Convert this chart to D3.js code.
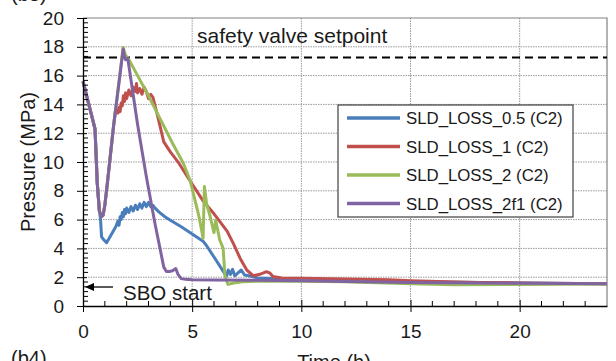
<!DOCTYPE html>
<html><head><meta charset="utf-8">
<script src="https://cdn.jsdelivr.net/npm/d3@7"></script>
<style>body{margin:0;background:#fff}svg{display:block;font-family:"Liberation Sans",Arial,sans-serif}</style>
</head><body><svg id="c" width="616" height="361"></svg>
<script>
// ---- data ----
const xTicks = [0, 5, 10, 15, 20];
const yTicks = [0, 2, 4, 6, 8, 10, 12, 14, 16, 18, 20];
const seriesNames = ["SLD_LOSS_0.5 (C2)", "SLD_LOSS_1 (C2)", "SLD_LOSS_2 (C2)", "SLD_LOSS_2f1 (C2)"];
const seriesColors = ["#4a7ebb", "#c0504d", "#9bbb59", "#8064a2"];
const setpoint = 17.25;

const tBlue = [0,0.2,0.55,0.6,0.65,0.75,0.8,0.85,0.95,1.08,1.2,1.35,1.5,1.6,1.65,1.7,1.75,1.8,1.85,1.9,1.95,2.0,2.1,2.2,2.3,2.4,2.5,2.6,2.7,2.8,2.9,3.0,3.1,3.2,3.3,3.5,3.75,4.0,4.5,5.0,5.5,5.7,6.0,6.3,6.57,6.65,6.75,6.85,6.95,7.1,7.25,7.4,7.6,8,9,10,12,15,20,24];
const pBlue = [15.6,14.4,12.3,10.5,8.6,6.6,6.1,4.8,4.6,4.4,4.7,5.1,5.5,5.9,5.6,6.2,6.0,6.5,6.2,6.7,6.4,6.8,6.5,6.9,6.6,7.0,6.7,7.1,6.8,7.2,6.9,7.2,6.9,7.0,6.8,6.5,6.2,5.95,5.5,5.0,4.5,4.1,3.4,2.7,2.05,2.5,2.2,2.55,2.1,2.3,2.5,2.15,2.1,1.95,1.9,1.85,1.78,1.68,1.6,1.55];

const tRed = [0,0.2,0.55,0.6,0.65,0.75,0.85,0.92,1.0,1.1,1.4,1.5,1.6,1.65,1.7,1.75,1.8,1.85,1.9,1.95,2.0,2.1,2.2,2.3,2.4,2.45,2.5,2.6,2.7,2.8,2.9,3.0,3.1,3.2,3.4,3.7,4.0,4.4,4.9,5.5,6.0,6.6,6.9,7.2,7.5,7.8,8.1,8.4,8.55,8.7,9.1,10,12,14,15,18,20,24];
const pRed = [15.6,14.4,12.3,10.5,8.6,6.6,6.2,6.3,7.0,8.3,12.5,13.7,13.4,13.8,13.5,14.1,13.9,14.6,14.2,14.8,14.4,15.0,14.6,15.2,14.9,15.45,14.8,15.1,14.7,15.2,14.9,14.4,14.7,14.5,13.3,11.4,10.7,9.9,8.7,7.3,6.4,5.2,4.3,3.3,2.5,2.1,2.2,2.38,2.3,2.05,1.95,1.92,1.88,1.82,1.75,1.63,1.6,1.55];

const tGreen = [0,0.2,0.55,0.6,0.65,0.75,0.85,0.92,1.0,1.1,1.4,1.6,1.84,1.95,2.07,2.5,3.0,3.5,4.1,4.6,4.9,5.12,5.3,5.43,5.5,5.56,5.66,5.81,6.0,6.08,6.26,6.42,6.5,6.64,6.9,7.3,8,9,10,12,15,17,20,24];
const pGreen = [15.6,14.4,12.3,10.5,8.6,6.6,6.2,6.3,7.0,8.3,12.5,15.0,17.95,17.4,17.2,16.0,14.6,13.1,11.3,9.9,8.75,7.4,6.3,5.3,4.7,8.3,7.1,6.3,5.1,5.95,4.6,4.0,2.1,1.5,1.6,1.68,1.72,1.74,1.72,1.68,1.55,1.48,1.5,1.52];

const tPurple = [0,0.2,0.55,0.6,0.65,0.75,0.85,0.92,1.0,1.1,1.4,1.6,1.84,1.9,1.95,2.05,2.5,2.9,3.3,3.7,3.82,3.95,4.1,4.25,4.35,4.5,4.7,5,6,8,10,12,15,18,20,24];
const pPurple = [15.6,14.4,12.3,10.5,8.6,6.6,6.2,6.3,7.0,8.3,12.5,14.9,17.85,17.3,17.1,17.2,12.6,9.0,5.7,2.7,2.4,2.4,2.45,2.6,2.2,1.9,1.85,1.82,1.8,1.78,1.75,1.7,1.63,1.6,1.58,1.55];

const seriesT = [tBlue, tRed, tGreen, tPurple];
const seriesP = [pBlue, pRed, pGreen, pPurple];

// ---- drawing ----
const svg = d3.select("#c");
const L = 83, R = 607, T = 18, B = 306;
const x = d3.scaleLinear().domain([0, 24]).range([L, R]);
const y = d3.scaleLinear().domain([0, 20]).range([B, T]);
const txt = "#1a1a1a";

svg.append("rect").attr("x", 0).attr("y", 0).attr("width", 616).attr("height", 361).attr("fill", "#fff");

// gridlines
const grid = svg.append("g").attr("stroke", "#9a9a9a").attr("stroke-width", 1).attr("stroke-dasharray", "1.5,1");
grid.selectAll(".gx").data(xTicks.filter(d => d > 0)).join("line")
  .attr("x1", d => x(d)).attr("x2", d => x(d)).attr("y1", T).attr("y2", B);
grid.selectAll(".gy").data(yTicks.filter(d => d > 0 && d < 20)).join("line")
  .attr("x1", L).attr("x2", R).attr("y1", d => y(d)).attr("y2", d => y(d));

// border top/right
svg.append("path").attr("d", `M${L},${T}H${R}V${B}`).attr("fill", "none").attr("stroke", "#808080").attr("stroke-width", 1.2);

// setpoint dashed
svg.append("line").attr("x1", x(0)).attr("x2", x(24)).attr("y1", y(setpoint)).attr("y2", y(setpoint))
  .attr("stroke", "#000").attr("stroke-width", 2).attr("stroke-dasharray", "8,5");

svg.append("text").attr("x", 197).attr("y", 43).attr("font-size", 21).attr("fill", txt).text("safety valve setpoint");

// series lines
const line = d3.line().x(d => x(d[0])).y(d => y(d[1]));
seriesT.forEach((ts, i) => {
  const pts = ts.map((t, k) => [t, seriesP[i][k]]);
  svg.append("path").datum(pts).attr("d", line).attr("fill", "none")
    .attr("stroke", seriesColors[i]).attr("stroke-width", 3).attr("stroke-linejoin", "round");
});

// minor ticks
const yMinor = d3.range(0, 20.001, 1/3).filter(v => Math.abs(v/2 - Math.round(v/2)) > 0.01);
svg.append("g").selectAll("line").data(yMinor).join("line")
  .attr("x1", L).attr("x2", L + 5).attr("y1", d => y(d)).attr("y2", d => y(d)).attr("stroke", "#000");
const xMinor = d3.range(1, 24, 1).filter(v => v % 5 !== 0);
svg.append("g").selectAll("line").data(xMinor).join("line")
  .attr("x1", d => x(d)).attr("x2", d => x(d)).attr("y1", B).attr("y2", B - 5).attr("stroke", "#000");

// axes
const yAxis = svg.append("g").attr("transform", `translate(${L},0)`)
  .call(d3.axisLeft(y).tickValues(yTicks).tickFormat(d3.format("d")).tickSize(6).tickSizeOuter(0).tickPadding(13));
yAxis.selectAll(".tick line").attr("x1", 4).attr("stroke", "#000");
yAxis.select(".domain").attr("stroke", "#000").attr("stroke-width", 1.3);
yAxis.selectAll("text").attr("font-size", 19).attr("fill", txt).attr("font-family", null);

const xAxis = svg.append("g").attr("transform", `translate(0,${B})`)
  .call(d3.axisBottom(x).tickValues(xTicks).tickFormat(d3.format("d")).tickSize(6).tickSizeOuter(0).tickPadding(13));
xAxis.selectAll(".tick line").attr("y1", -6).attr("stroke", "#000");
xAxis.select(".domain").attr("stroke", "#000").attr("stroke-width", 1.3);
xAxis.selectAll("text").attr("font-size", 19).attr("fill", txt).attr("font-family", null);

// axis titles
svg.append("text").attr("x", 334).attr("y", 369).attr("text-anchor", "middle").attr("font-size", 20).attr("fill", txt).text("Time (h)");
svg.append("text").attr("transform", `translate(35,${(T + B) / 2}) rotate(-90)`).attr("text-anchor", "middle")
  .attr("font-size", 20).attr("fill", txt).text("Pressure (MPa)");

// panel labels
svg.append("text").attr("x", 11).attr("y", 365).attr("font-size", 20).attr("fill", txt).text("(b4)");
svg.append("text").attr("x", 11).attr("y", 1).attr("font-size", 20).attr("fill", txt).text("(b3)");

// SBO start annotation
svg.append("line").attr("x1", 113).attr("x2", 92).attr("y1", 287).attr("y2", 287).attr("stroke", "#000").attr("stroke-width", 1.3);
svg.append("path").attr("d", "M85,287L94,283L94,291Z").attr("fill", "#000");
svg.append("text").attr("x", 123).attr("y", 300).attr("font-size", 20.5).attr("fill", txt).text("SBO start");

// legend
const lg = svg.append("g");
lg.append("rect").attr("x", 338).attr("y", 105).attr("width", 235).attr("height", 112).attr("fill", "#fff").attr("stroke", "#404040").attr("stroke-width", 1.2);
seriesNames.forEach((n, i) => {
  const cy = 118 + i * 28.5;
  lg.append("line").attr("x1", 347).attr("x2", 400).attr("y1", cy).attr("y2", cy).attr("stroke", seriesColors[i]).attr("stroke-width", 3.5);
  lg.append("text").attr("x", 406).attr("y", cy + 6).attr("font-size", 16.8).attr("fill", txt).text(n);
});
</script></body></html>
